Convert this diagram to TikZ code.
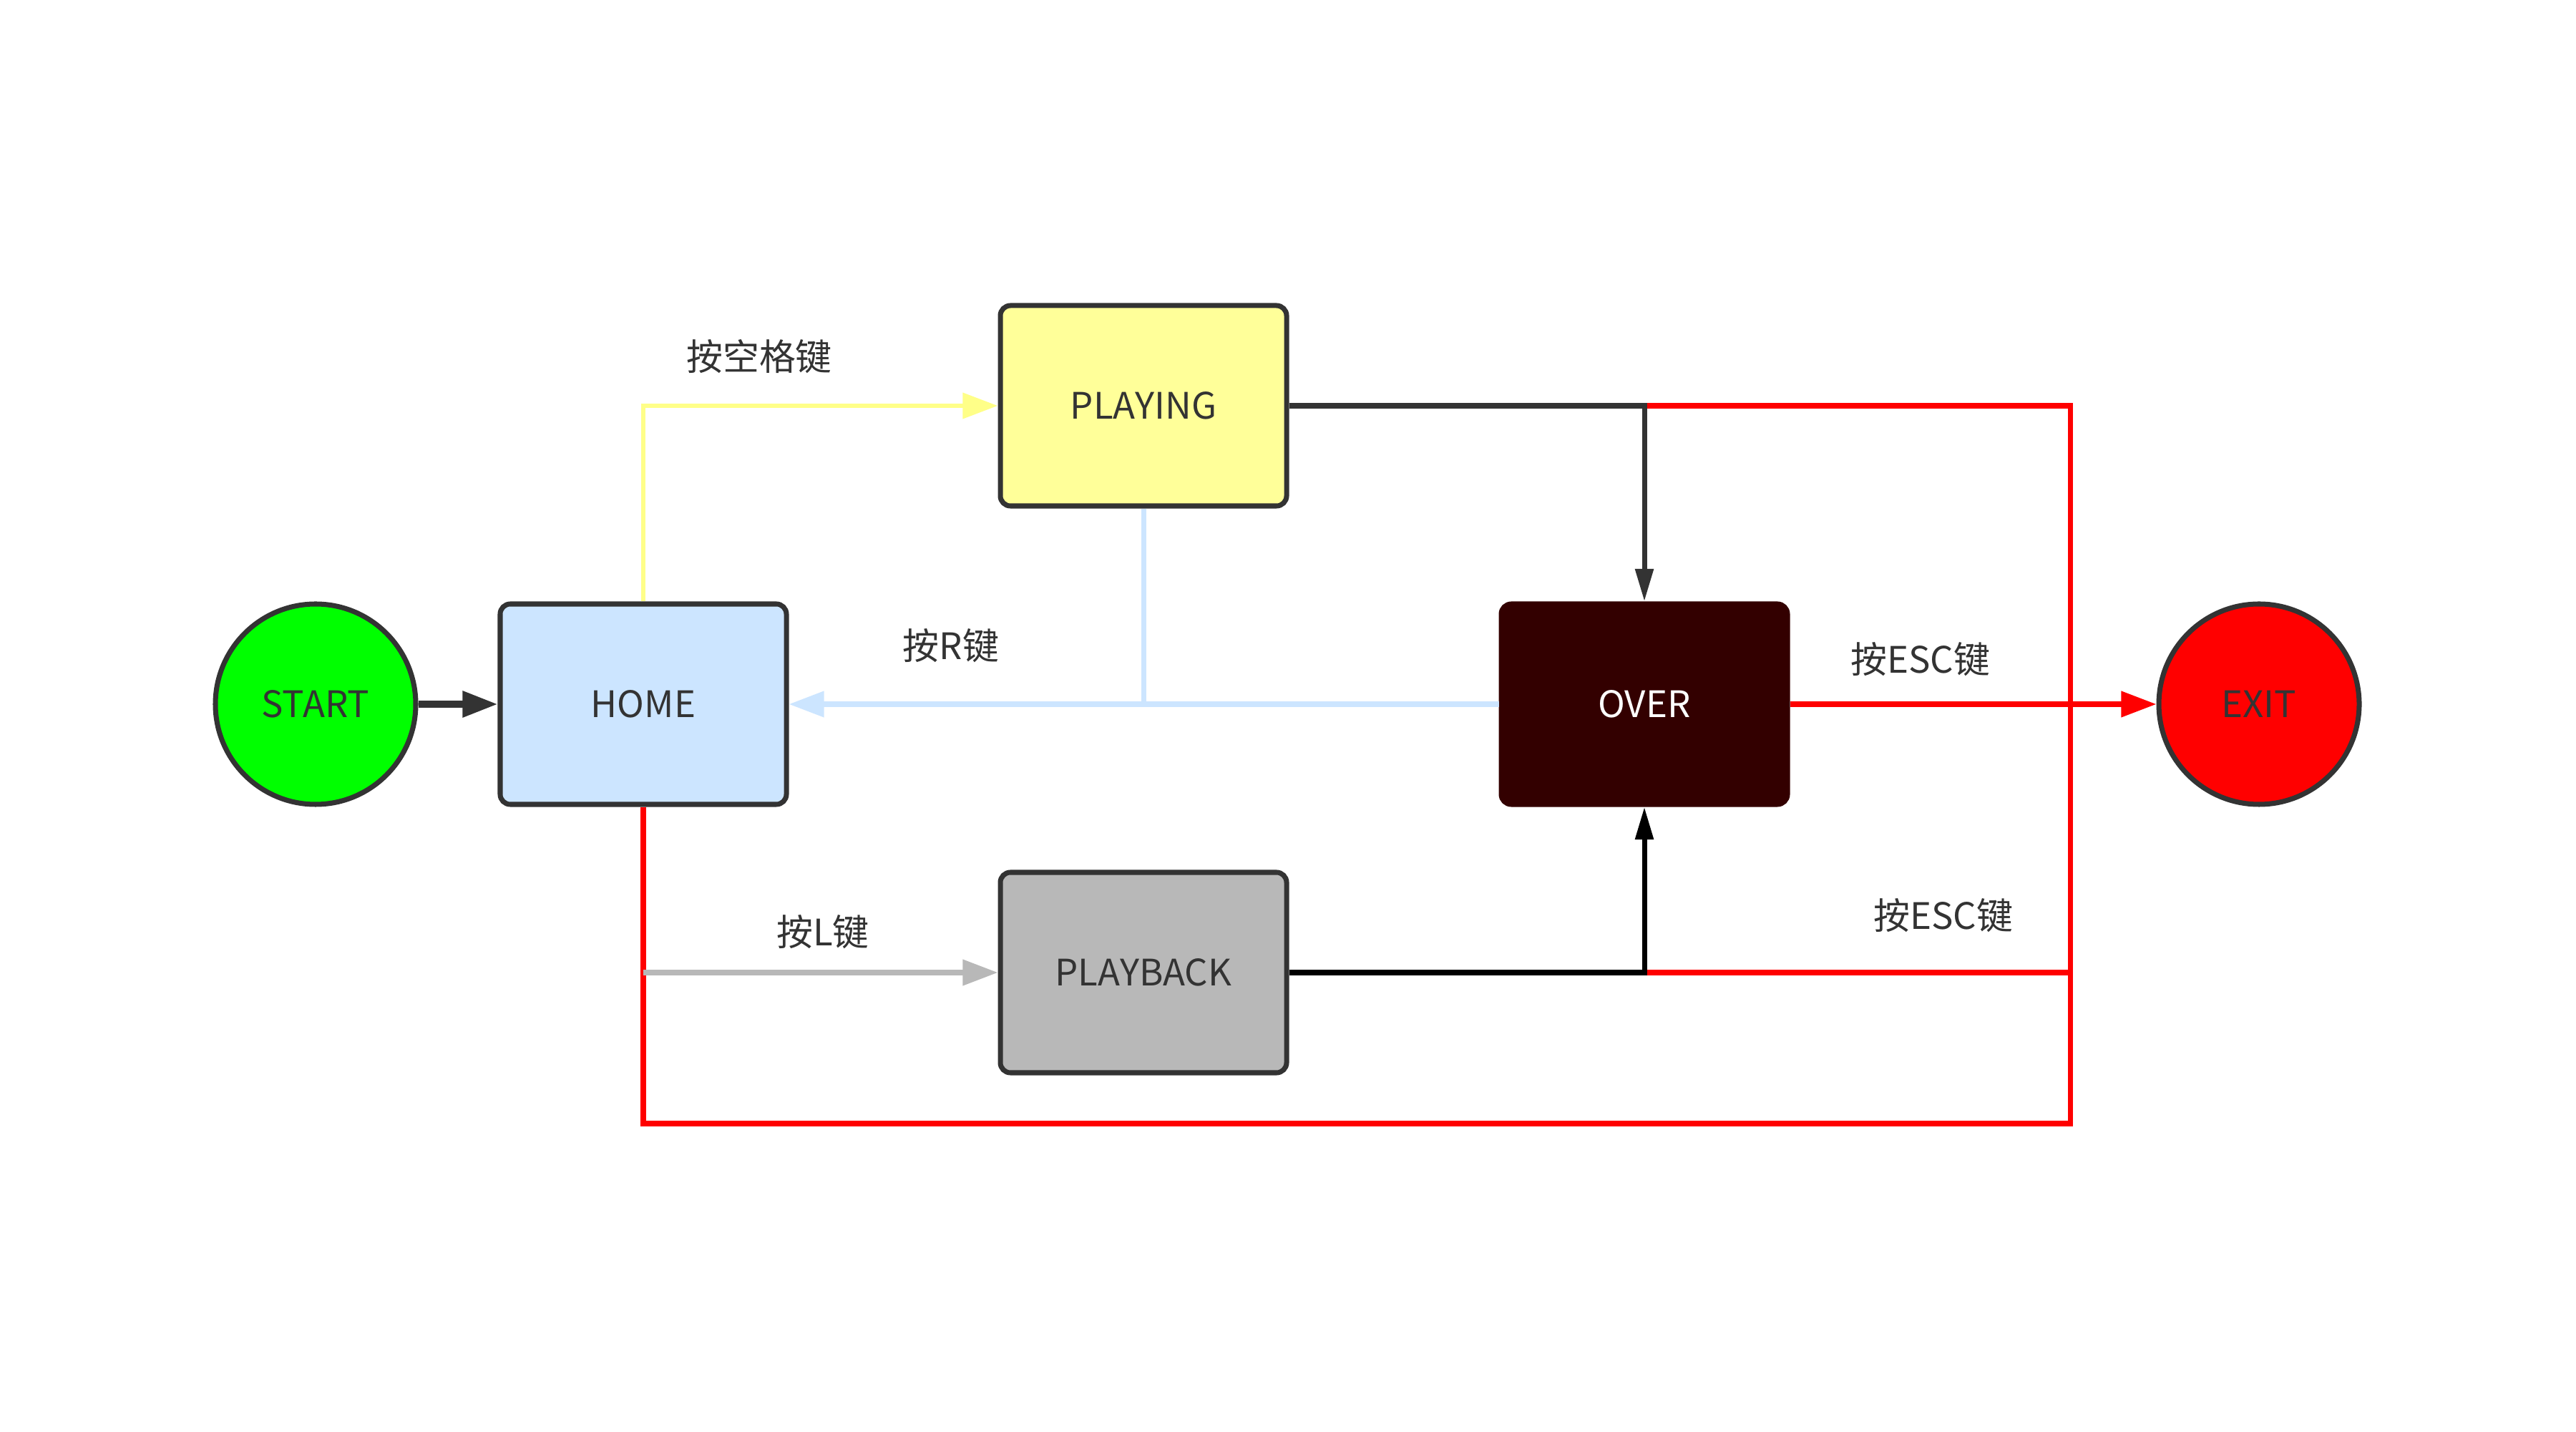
\documentclass[tikz,border=0pt]{standalone}
\usepackage{fontspec}
\setmainfont{Noto Sans CJK SC}
\usetikzlibrary{arrows.meta}
\definecolor{edgegray}{HTML}{333333}
\definecolor{homeblue}{HTML}{CCE5FF}
\definecolor{playyellow}{HTML}{FFFF99}
\definecolor{overred}{HTML}{330000}
\definecolor{backgray}{HTML}{B8B8B8}
\definecolor{lineyellow}{HTML}{FFFF88}

\begin{document}
\begin{tikzpicture}[every node/.style={font=\fontsize{14.5}{17}\selectfont, text=edgegray},
	state/.style={draw=edgegray, line width=2pt, rounded corners=4pt, minimum width=4cm, minimum height=2.8cm, inner sep=0pt},
	term/.style={draw=edgegray, line width=2pt, circle, minimum size=2.8cm, inner sep=0pt},
	tip/.style={-{Triangle[length=14pt, width=10pt]}},
	slim/.style={-{Triangle[length=13pt, width=7pt]}}]
	\useasboundingbox (0,0) rectangle (36,20);
	\node[term, fill=green] (start) at (4.41,10.16) {START};
	\node[state, fill=homeblue] (home) at (8.99,10.16) {HOME};
	\node[state, fill=playyellow] (playing) at (15.98,14.33) {PLAYING};
	\node[state, draw=overred, fill=overred, text=white] (over) at (22.98,10.16) {OVER};
	\node[state, fill=backgray] (playback) at (15.98,6.41) {PLAYBACK};
	\node[term, fill=red] (exit) at (31.57,10.16) {EXIT};
	\coordinate (rtop) at (28.93,14.33);
	\coordinate (rbot) at (28.93,4.30);
	% esc paths
	\draw[red, line width=2pt] (over.north |- playing.east) -- (rtop) -- (rbot) -| (home.south);
	\draw[red, line width=2pt] (over.south |- playback.east) -- (rbot |- playback.east);
	\draw[red, line width=2pt, tip] (over.east) -- (exit.west);
	% key transitions
	\draw[edgegray, line width=2.6pt, tip] (start.east) -- (home.west);
	\draw[lineyellow, line width=1.9pt, tip] (home.north) |- (playing.west);
	\draw[edgegray, line width=2pt, slim] (playing.east) -| (over.north);
	\draw[black, line width=2pt, slim] (playback.east) -| (over.south);
	\draw[backgray, line width=2pt, tip] (home.south |- playback.west) -- (playback.west);
	\draw[homeblue, line width=2pt, tip] (over.west) -- (home.east);
	\draw[homeblue, line width=2pt] (playing.south) -- (playing.south |- over.west);
	\foreach \n/\p/\t in {lspace/{(10.61,15.02)}/按空格键, lr/{(13.29,10.98)}/按R键, lesc/{(26.84,10.79)}/按ESC键, lescb/{(27.16,7.21)}/按ESC键, ll/{(11.50,6.98)}/按L键}
		{\node (\n) at \p {\t};}
\end{tikzpicture}
\end{document}
